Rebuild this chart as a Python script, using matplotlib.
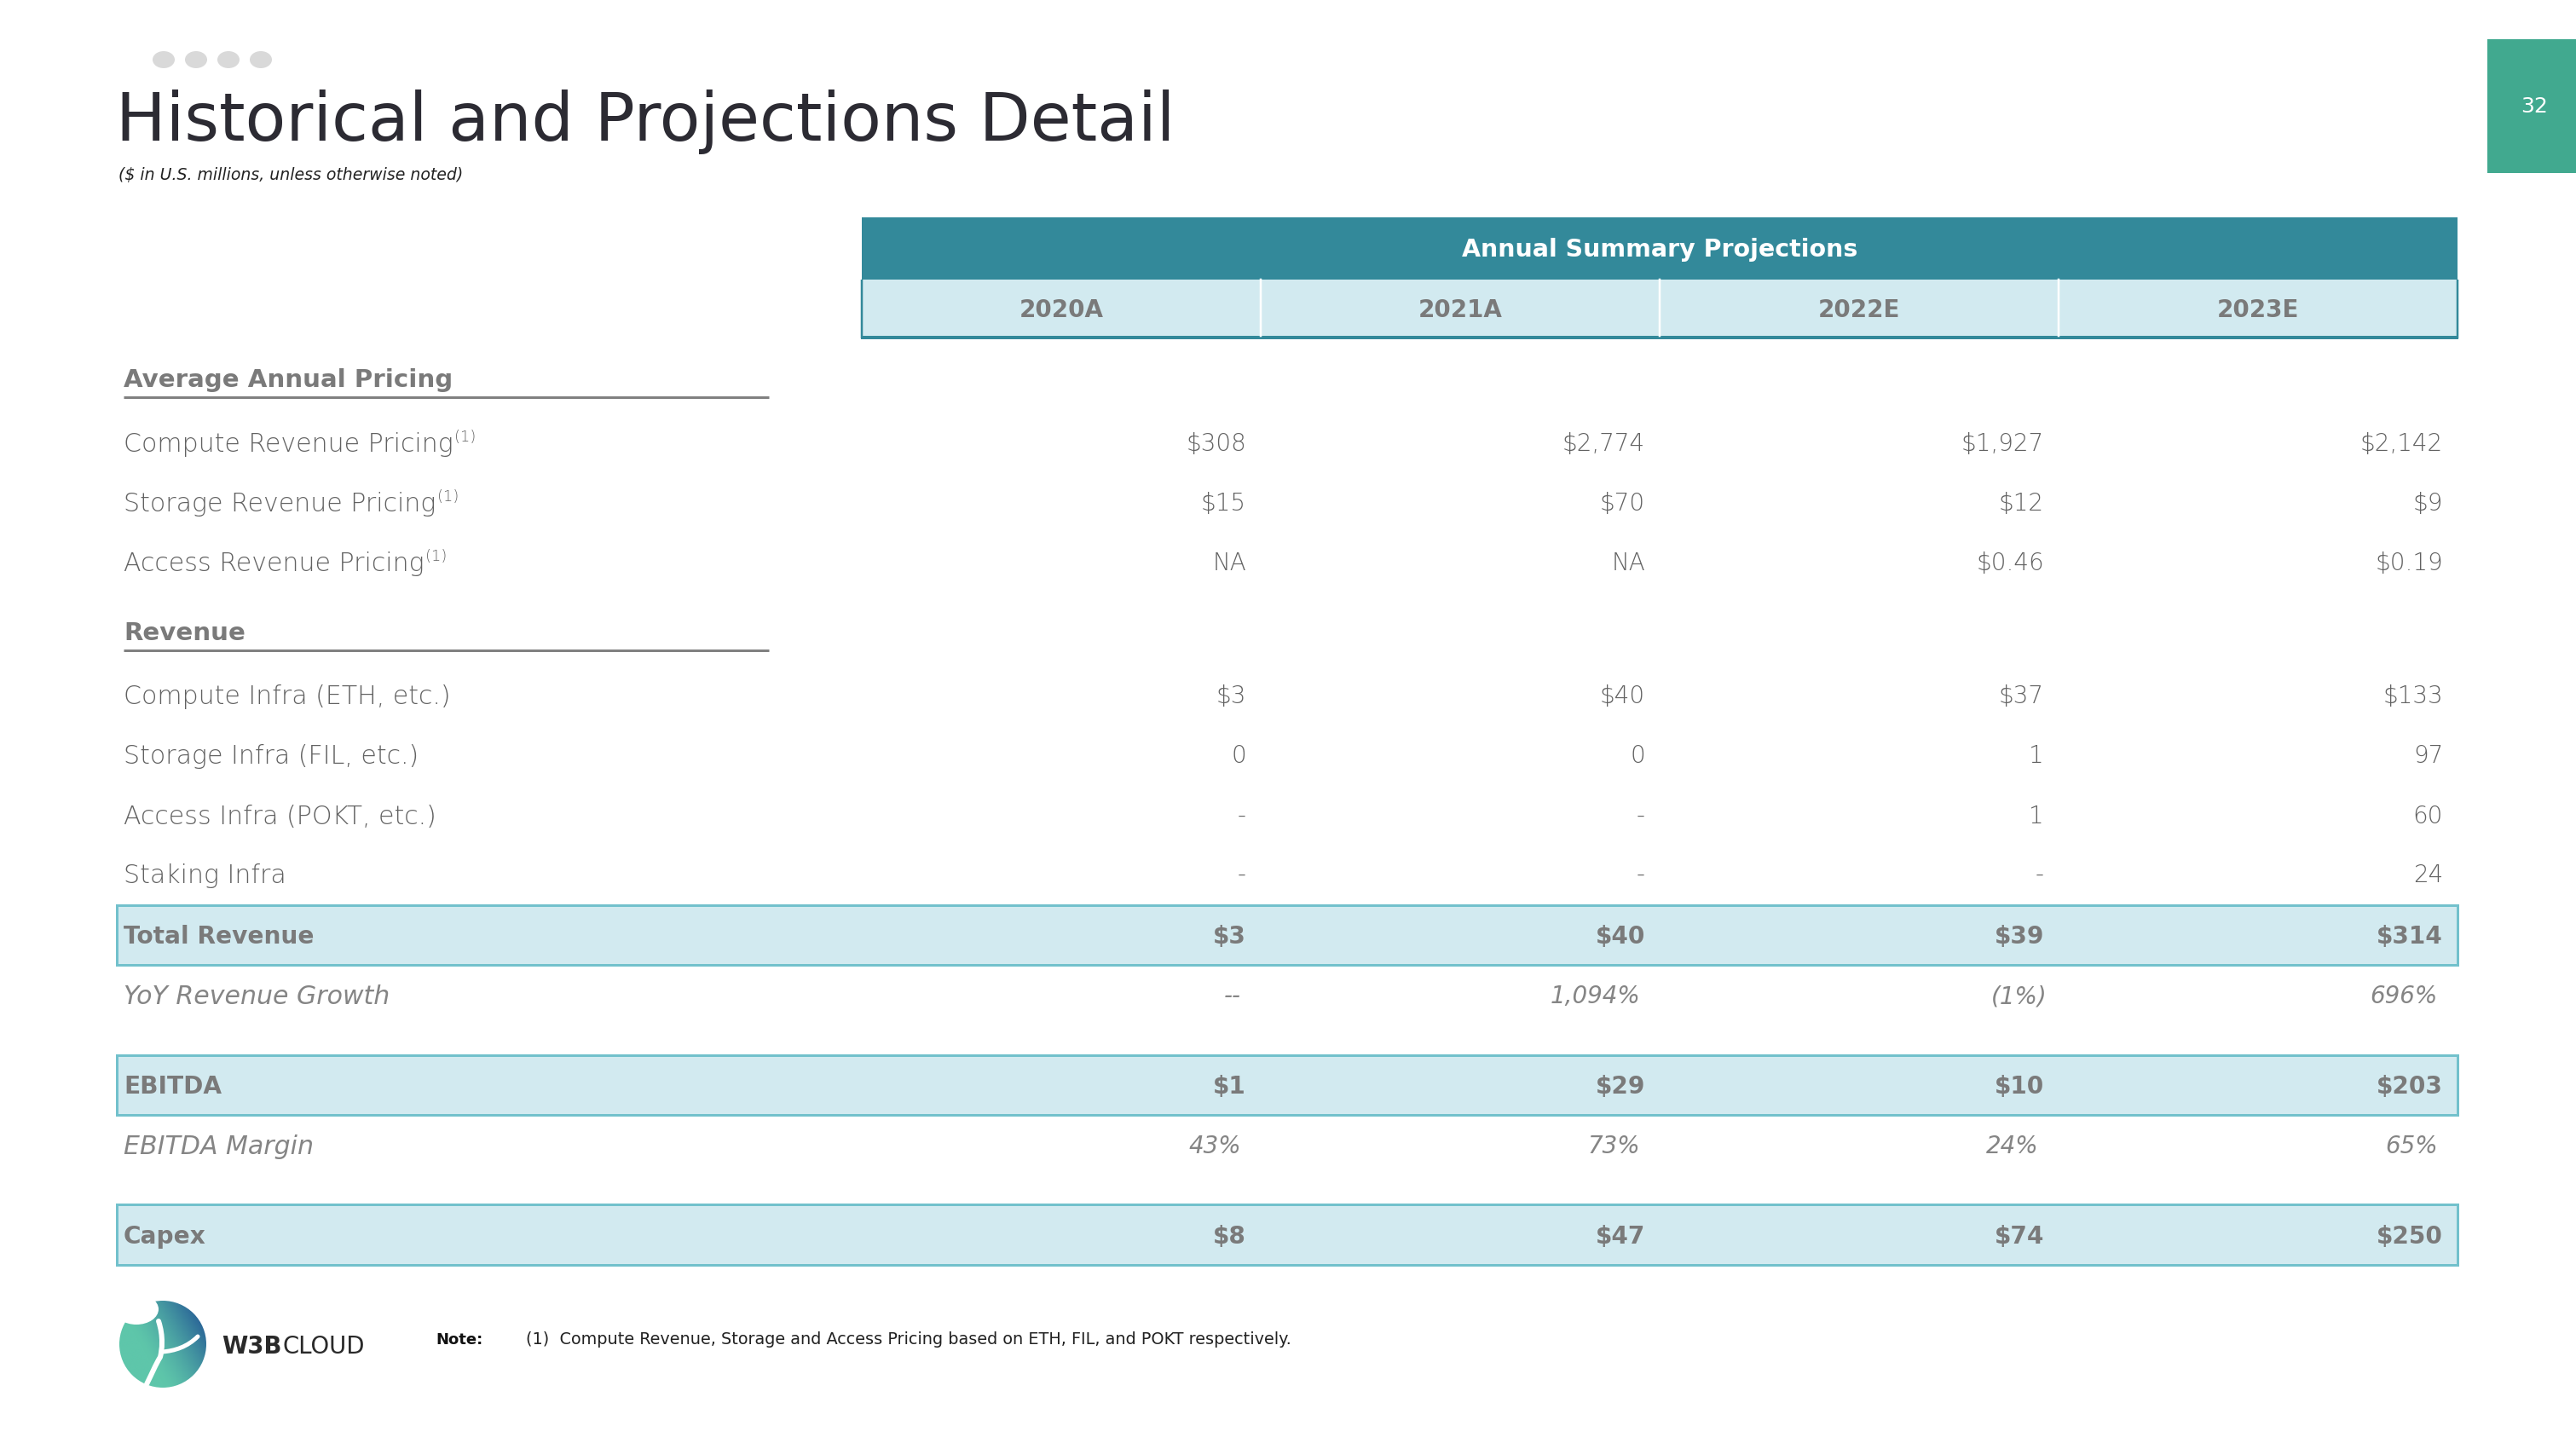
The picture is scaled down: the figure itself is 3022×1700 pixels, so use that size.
import matplotlib
matplotlib.use("Agg")
import matplotlib.pyplot as plt
from matplotlib.patches import Rectangle, Ellipse, Circle, PathPatch
from matplotlib.path import Path
import numpy as np

plt.rcParams['font.family'] = ['DejaVu Sans']

# ---------------- data ----------------
title = "Historical and Projections Detail"
subtitle = "($ in U.S. millions, unless otherwise noted)"
header = "Annual Summary Projections"
years = ["2020A", "2021A", "2022E", "2023E"]
page_number = "32"

pricing_section = "Average Annual Pricing"
pricing_labels = ["Compute Revenue Pricing", "Storage Revenue Pricing", "Access Revenue Pricing"]
compute_pricing = ["$308", "$2,774", "$1,927", "$2,142"]
storage_pricing = ["$15", "$70", "$12", "$9"]
access_pricing = ["NA", "NA", "$0.46", "$0.19"]

revenue_section = "Revenue"
revenue_labels = ["Compute Infra (ETH, etc.)", "Storage Infra (FIL, etc.)",
                  "Access Infra (POKT, etc.)", "Staking Infra"]
compute_infra = ["$3", "$40", "$37", "$133"]
storage_infra = ["0", "0", "1", "97"]
access_infra = ["-", "-", "1", "60"]
staking_infra = ["-", "-", "-", "24"]

total_label = "Total Revenue"
total_revenue = ["$3", "$40", "$39", "$314"]
yoy_label = "YoY Revenue Growth"
yoy_growth = ["--", "1,094%", "(1%)", "696%"]
ebitda_label = "EBITDA"
ebitda = ["$1", "$29", "$10", "$203"]
margin_label = "EBITDA Margin"
ebitda_margin = ["43%", "73%", "24%", "65%"]
capex_label = "Capex"
capex = ["$8", "$47", "$74", "$250"]

note_label = "Note:"
note_text = "(1)  Compute Revenue, Storage and Access Pricing based on ETH, FIL, and POKT respectively."
footnote_mark = "(1)"
logo_bold = "W3B"
logo_light = "CLOUD"

# ---------------- style ----------------
DARK = "#33899a"
LIGHT = "#d2eaf0"
BOX_EDGE = "#72c1cc"
GRAY = "#626262"
GRAY_I = "#858585"
GRAY_B = "#7a7a7a"
TITLE_C = "#2c2b33"
DOT_C = "#d9d9d9"
PAGE_C = "#41a98f"

W, H = 3022, 1700
PT = 0.72      # points per pixel at dpi 100
CAP = 0.729    # cap height of DejaVu Sans in em

fig = plt.figure(figsize=(W / 100, H / 100), dpi=100)
ax = fig.add_axes([0, 0, 1, 1])


def put(x, yc, s, px, color=GRAY, weight='normal', style='normal', ha='left', z=5):
    base = yc + CAP * px / 2
    return ax.text(x, base, s, fontsize=px * PT, color=color, fontweight=weight,
                   fontstyle=style, ha=ha, va='baseline', zorder=z)


# ---------------- title area ----------------
for i in range(4):
    ax.add_patch(Ellipse((192 + i * 38, 70), 26, 20, fc=DOT_C, ec='none'))
ax.text(136, 165, title, fontsize=56.2, color=TITLE_C, va='baseline', ha='left')
ax.text(139, 211, subtitle, fontsize=13.6, color="#222222", fontstyle='italic',
        va='baseline', ha='left')

# page number box
ax.add_patch(Rectangle((2918, 46), 110, 157, fc=PAGE_C, ec='none'))
ax.text(2973, 125, page_number, fontsize=18, color='white', ha='center', va='center')

# ---------------- header ----------------
col_left = 1011
col_w = 468
ncol = len(years)
col_rights = [col_left + (i + 1) * col_w for i in range(ncol)]
val_x = [r - 17 for r in col_rights]
tab_right = col_rights[-1]

ax.add_patch(Rectangle((col_left, 255), ncol * col_w, 73, fc=DARK, ec='none', zorder=2))
ax.add_patch(Rectangle((col_left, 328), ncol * col_w, 69, fc=LIGHT, ec='none', zorder=2))
ax.plot([col_left, col_left], [328, 397], color=DARK, lw=2.5 * PT, zorder=3,
        solid_capstyle='butt')
ax.plot([tab_right, tab_right], [328, 397], color=DARK, lw=2.5 * PT, zorder=3,
        solid_capstyle='butt')
ax.plot([col_left - 1, tab_right + 1], [396, 396], color=DARK, lw=4 * PT, zorder=3,
        solid_capstyle='butt')
for r in col_rights[:-1]:
    ax.plot([r, r], [328, 394], color='white', lw=2.5 * PT, zorder=3)
put(col_left + ncol * col_w / 2, 291, header, 28.5, color='white', weight='bold', ha='center')
for i, y in enumerate(years):
    put(col_left + (i + 0.5) * col_w, 362, y, 27.8, color=GRAY_B, weight='bold', ha='center')

# ---------------- body ----------------
LBL_X = 145
LBL_PX = 30
VAL_PX = 27.8
BOLD_PX = 28


def section(yc, ul_y, text):
    put(LBL_X, yc, text, 29.2, color=GRAY_B, weight='bold')
    ax.plot([LBL_X, 902], [ul_y, ul_y], color="#808080", lw=3 * PT, solid_capstyle='butt')


def plain_row(yc, label, values, sup=False):
    t = put(LBL_X, yc, label, LBL_PX, weight='light')
    if sup:
        ax.annotate(footnote_mark, xy=(1, 1), xycoords=t, xytext=(1, 2),
                    textcoords='offset points', ha='left', va='top',
                    fontsize=13, color=GRAY, fontweight='light')
    for x, v in zip(val_x, values):
        put(x, yc, v, VAL_PX, weight='light', ha='right')


def italic_row(yc, label, values):
    put(LBL_X, yc, label, LBL_PX, color=GRAY_I, style='italic', weight='light')
    for x, v in zip(val_x, values):
        dx = -6 + (10 if v.endswith(')') else 0)
        put(x + dx, yc, v, VAL_PX, color=GRAY_I, style='italic', weight='light', ha='right')


def box_row(top, bottom, label, values):
    ax.add_patch(Rectangle((137, top), tab_right - 137, bottom - top, fc=LIGHT,
                           ec=BOX_EDGE, lw=3 * PT, zorder=1))
    yc = (top + bottom) / 2
    put(LBL_X, yc, label, BOLD_PX, color=GRAY_B, weight='bold')
    for x, v in zip(val_x, values):
        put(x, yc, v, BOLD_PX, color=GRAY_B, weight='bold', ha='right')


section(443, 466, pricing_section)
for yc, lab, vals in zip([519, 589, 659], pricing_labels,
                         [compute_pricing, storage_pricing, access_pricing]):
    plain_row(yc, lab, vals, sup=True)

section(740, 763, revenue_section)
for yc, lab, vals in zip([815, 885, 956, 1025], revenue_labels,
                         [compute_infra, storage_infra, access_infra, staking_infra]):
    plain_row(yc, lab, vals)

box_row(1062, 1132, total_label, total_revenue)
italic_row(1167, yoy_label, yoy_growth)
box_row(1238, 1308, ebitda_label, ebitda)
italic_row(1343, margin_label, ebitda_margin)
box_row(1413, 1484, capex_label, capex)

# ---------------- footer ----------------
put(511, 1570, note_label, 18, color="#111111", weight='bold')
put(617, 1570, note_text, 19.3, color="#222222")

# logo
cx, cy, r = 191, 1577, 51
n = 200
xs = np.linspace(cx - r, cx + r, n)
ys = np.linspace(cy - r, cy + r, n)
X, Y = np.meshgrid(xs, ys)
u = (X - (cx - r)) / (2 * r)
v = (Y - (cy - r)) / (2 * r)
t = np.clip(u * 1.2 - v * 0.7 + 0.05, 0, 1) ** 1.4
c0 = np.array([0x5e, 0xc6, 0xaa]) / 255
c1 = np.array([0x2c, 0x68, 0x98]) / 255
img = c0[None, None, :] * (1 - t[..., None]) + c1[None, None, :] * t[..., None]
im = ax.imshow(img, extent=(cx - r, cx + r, cy + r, cy - r), zorder=3,
               interpolation='bilinear')
im.set_clip_path(Circle((cx, cy), r, transform=ax.transData))
ax.add_patch(Ellipse((160, 1536), 52, 36, fc='white', ec='none', zorder=4))
gap = Path([(186, 1550), (192, 1568), (190, 1584), (188, 1592),
            (182, 1602), (178, 1612), (172, 1624)],
           [Path.MOVETO, Path.CURVE4, Path.CURVE4, Path.CURVE4,
            Path.CURVE4, Path.CURVE4, Path.CURVE4])
ax.add_patch(PathPatch(gap, fc='none', ec='white', lw=6 * PT, zorder=4, capstyle='round'))
gap2 = Path([(190, 1586), (205, 1585), (220, 1580), (232, 1568)],
            [Path.MOVETO, Path.CURVE4, Path.CURVE4, Path.CURVE4])
ax.add_patch(PathPatch(gap2, fc='none', ec='white', lw=5 * PT, zorder=4, capstyle='round'))

tw = put(260, 1578, logo_bold, 27.5, color="#2a2a2a", weight='heavy')
ax.annotate(logo_light, xy=(1, 0), xycoords=tw, xytext=(1, 0), textcoords='offset points',
            ha='left', va='bottom', fontsize=27.5 * PT, color="#2a2a2a")

ax.set_xlim(0, W)
ax.set_ylim(H, 0)
ax.set_aspect('auto')
ax.axis('off')
fig.savefig("out.png", dpi=100, facecolor='white')
